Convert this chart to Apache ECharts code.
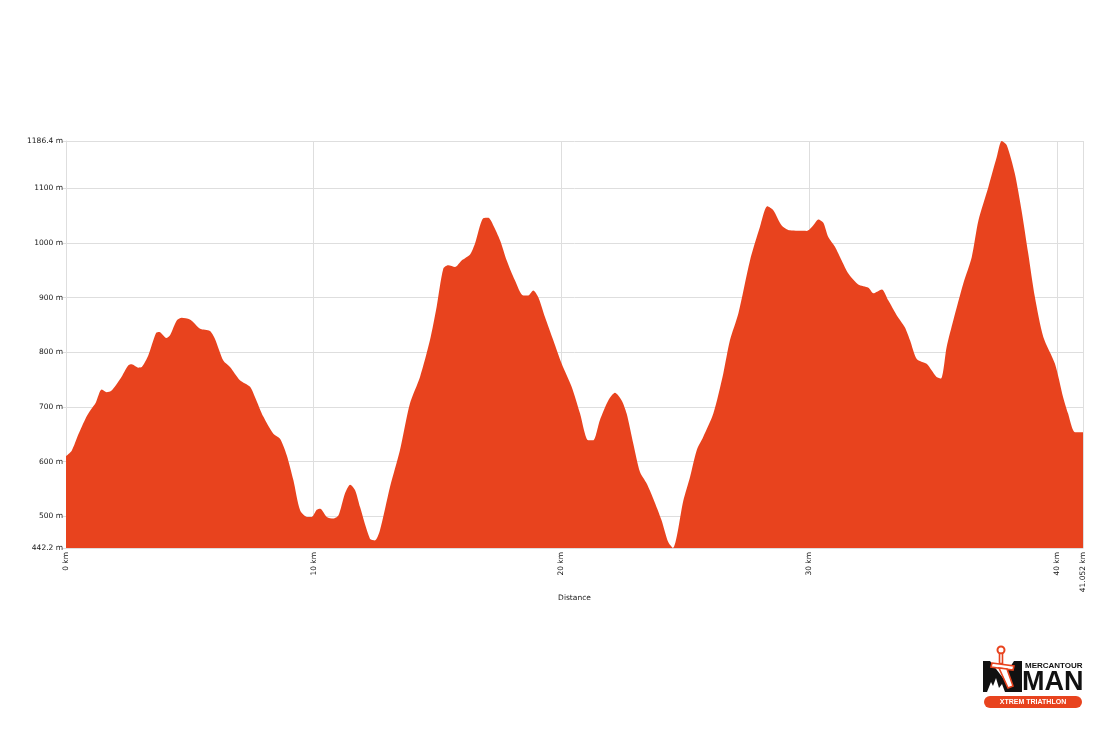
<!DOCTYPE html>
<html>
<head>
<meta charset="utf-8">
<script src="https://cdn.jsdelivr.net/npm/echarts@6/dist/echarts.min.js"></script>
<style>
html,body{margin:0;padding:0;background:#fff;}
#chart{width:1116px;height:737px;}
</style>
</head>
<body>
<div id="chart"></div>
<script>
// Distance along the course (km)
const distanceKm = [
  0.00, 0.23, 0.50, 0.80, 1.00, 1.20, 1.44, 1.64, 1.84, 2.20, 2.51, 2.65, 2.92, 3.06, 3.32, 3.63, 3.77,
  4.05, 4.20, 4.47, 4.67, 5.00, 5.14, 5.41, 5.81, 6.01, 6.35, 6.62, 7.02, 7.43, 7.63, 7.97, 8.37,
  8.64, 8.91, 9.18, 9.45, 9.72, 9.92, 10.12, 10.26, 10.53, 10.79, 11.00, 11.26, 11.47, 11.67, 11.87,
  12.27, 12.47, 12.67, 13.08, 13.48, 13.88, 14.29, 14.69, 14.96, 15.23, 15.43, 15.70, 15.97, 16.31,
  16.51, 16.84, 17.05, 17.25, 17.52, 17.79, 18.12, 18.46, 18.66, 18.86, 19.06, 19.33, 19.67, 20.01,
  20.41, 20.75, 21.08, 21.28, 21.55, 21.89, 22.16, 22.43, 22.63, 22.90, 23.17, 23.44, 23.71, 24.04,
  24.31, 24.50, 24.92, 25.19, 25.46, 25.72, 26.13, 26.53, 26.80, 27.14, 27.61, 28.01, 28.31, 28.55,
  28.89, 29.22, 29.90, 30.16, 30.37, 30.57, 30.77, 31.04, 31.31, 31.58, 31.98, 32.39, 32.59, 32.93,
  33.19, 33.53, 33.86, 34.07, 34.34, 34.74, 34.94, 35.14, 35.32, 35.55, 35.82, 36.22, 36.56, 36.83,
  37.23, 37.57, 37.77, 37.97, 38.30, 38.57, 38.84, 39.11, 39.45, 39.92, 40.25, 40.45, 40.73, 41.052
];
// Elevation (m)
const elevationM = [
  610, 620, 650, 680, 695, 708, 732, 727, 730, 752, 776, 778, 772, 773, 794, 835, 837,
  826, 831, 858, 863, 860, 855, 843, 839, 825, 785, 773, 749, 737, 718, 682, 651,
  642, 612, 566, 511, 499, 499, 512, 514, 499, 496, 502, 542, 558, 548, 517,
  459, 456, 474, 554, 621, 706, 755, 822, 883, 953, 959, 956, 968, 979,
  999, 1045, 1046, 1032, 1005, 968, 932, 904, 904, 913, 901, 865, 822, 779,
  737, 688, 639, 639, 676, 712, 726, 712, 688, 633, 581, 560, 532, 493,
  453, 442.2, 529, 572, 621, 645, 688, 761, 822, 871, 968, 1029, 1067, 1060,
  1032, 1023, 1022, 1032, 1043, 1037, 1011, 993, 968, 944, 924, 918, 908, 915,
  895, 868, 846, 822, 788, 779, 767, 755, 752, 810, 859, 926, 974, 1041,
  1102, 1157, 1186.4, 1179, 1127, 1060, 981, 901, 828, 779, 718, 688, 654, 654
];
// Tick values
const yTickValues = [442.2, 500, 600, 700, 800, 900, 1000, 1100, 1186.4];
const xTickValues = [0, 10, 20, 30, 40, 41.052];

const chart = echarts.init(document.getElementById('chart'), null, {renderer: 'canvas'});
const orange = '#E8431E';
const gridColor = '#dedede';
const labelFont = {fontFamily: 'DejaVu Sans', fontSize: 7.5, color: '#161616'};

const option = {
  animation: false,
  backgroundColor: '#ffffff',
  grid: {left: 66, right: 33, top: 141, bottom: 189, containLabel: false},
  xAxis: {
    type: 'value',
    min: 0,
    max: 41.052,
    name: 'Distance',
    nameLocation: 'middle',
    nameGap: 46,
    nameMoveOverlap: false,
    nameTextStyle: {fontFamily: 'DejaVu Sans', fontSize: 7.5, color: '#161616'},
    axisLine: {show: true, lineStyle: {color: gridColor}},
    axisTick: {show: false, customValues: xTickValues},
    axisLabel: Object.assign({
      customValues: xTickValues,
      rotate: 90,
      margin: 4,
      formatter: v => v + ' km'
    }, labelFont),
    splitLine: {show: true, lineStyle: {color: gridColor, width: 1}}
  },
  yAxis: {
    type: 'value',
    min: 442.2,
    max: 1186.4,
    axisLine: {show: true, lineStyle: {color: gridColor}},
    axisTick: {show: true, length: 4, customValues: yTickValues, lineStyle: {color: gridColor}},
    axisLabel: Object.assign({
      customValues: yTickValues,
      margin: 3,
      formatter: v => v + ' m'
    }, labelFont),
    splitLine: {show: true, lineStyle: {color: gridColor, width: 1}}
  },
  series: [{
    type: 'line',
    data: distanceKm.map((d, i) => [d, elevationM[i]]),
    smooth: 0.25,
    symbol: 'none',
    lineStyle: {width: 0, color: orange},
    areaStyle: {color: orange, opacity: 1, origin: 'start'},
    z: 3
  }],
  graphic: [{
    type: 'group',
    x: 983,
    y: 644,
    children: [
      // mountain M
      {type: 'polygon', shape: {points: [[0, 48], [0, 17], [7, 17], [20, 34], [31, 17], [39, 17], [39, 48]]}, style: {fill: '#111'}},
      {type: 'polygon', shape: {points: [[4, 48], [8, 38], [10, 42], [13, 34], [16, 44], [19, 40], [22, 48]]}, style: {fill: '#fff'}},
      // sword
      {type: 'circle', shape: {cx: 18, cy: 6, r: 3.5}, style: {fill: '#fff', stroke: orange, lineWidth: 2}},
      {type: 'rect', shape: {x: 16.5, y: 9.5, width: 3, height: 10}, style: {fill: '#fff', stroke: orange, lineWidth: 1.6}},
      {type: 'polygon', shape: {points: [[9, 19], [31, 22], [30, 26], [8, 23]]}, style: {fill: '#fff', stroke: orange, lineWidth: 1.6}},
      {type: 'polygon', shape: {points: [[16, 24], [24, 25], [30, 42], [25, 44]]}, style: {fill: '#fff', stroke: orange, lineWidth: 1.6}},
      {type: 'text', x: 42, y: 22, style: {text: 'MERCANTOUR', font: 'bold 8px "Liberation Sans"', fill: '#111', align: 'left', verticalAlign: 'middle'}},
      {type: 'text', x: 39, y: 39, style: {text: 'MAN', font: 'bold 27px "Liberation Sans"', fill: '#111', align: 'left', verticalAlign: 'middle'}},
      {type: 'rect', shape: {x: 1, y: 52, width: 98, height: 12, r: 6}, style: {fill: orange}},
      {type: 'text', x: 50, y: 58.5, style: {text: 'XTREM TRIATHLON', font: 'bold 7px "Liberation Sans"', fill: '#fff', align: 'center', verticalAlign: 'middle'}}
    ]
  }]
};
chart.setOption(option);
</script>
</body>
</html>
